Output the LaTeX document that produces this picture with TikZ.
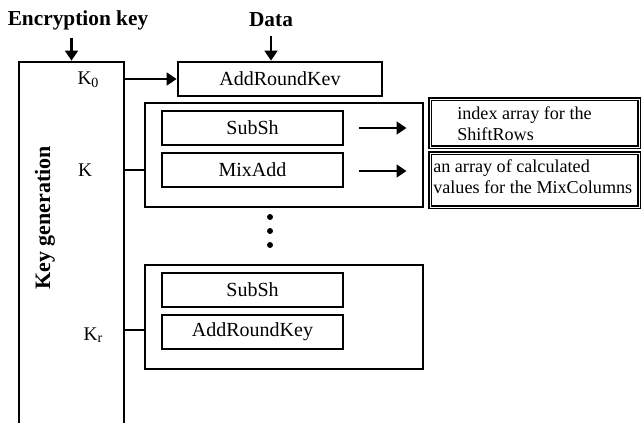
\documentclass[tikz,border=0pt]{standalone}
\usepackage{fontspec}
\setmainfont{Liberation Serif}
\usetikzlibrary{arrows.meta}
\begin{document}
\begin{tikzpicture}[x=0.75pt,y=-0.75pt,
  frame/.style={draw, line width=2pt, inner sep=0pt},
  opbox/.style={frame, minimum width=135.75pt, minimum height=25.5pt, font=\fontsize{15}{18}\selectfont},
  roundbox/.style={frame, minimum width=208.5pt, minimum height=78pt},
  infobox/.style={draw, double, line width=1.2pt, double distance=0.5pt, minimum width=156.75pt, inner sep=0pt},
  infotext/.style={align=left, font=\fontsize{13.6}{16}\selectfont, inner sep=0pt},
  head/.style={font=\bfseries\fontsize{16}{19}\selectfont},
  klabel/.style={font=\fontsize{14.5}{17}\selectfont, inner sep=0pt},
  arr/.style={line width=2.2pt, -{Triangle[length=7.5pt,width=9.5pt]}},
  link/.style={line width=2pt},
  dotn/.style={circle, fill, inner sep=0pt, minimum size=4.5pt}
]
\useasboundingbox (0,0) rectangle (641,422);
\clip (0,0) rectangle (641,422);
% headings
\node[head] (enc) at (78,20) {Encryption key};
\node[head] (data) at (271,20) {Data};
% key generation block (extends below the picture)
\node[frame, minimum width=78.75pt, minimum height=282pt] (keygen) at (71.5,250) {};
\node[font=\bfseries\fontsize{16.5}{19}\selectfont, rotate=90] (kgtext) at (45,218) {Key generation};
% first add round key
\node[frame, minimum width=153pt, minimum height=25.5pt, font=\fontsize{15}{18}\selectfont] (ark) at (280,79) {AddRoundKev};
% round 1
\node[roundbox] (round1) at (284,155) {};
\node[opbox] (subsh1) at (252.5,128) {SubSh};
\node[opbox] (mixadd) at (252.5,170) {MixAdd};
% info boxes
\node[infobox, minimum height=36pt] (info1) at (534.5,123) {};
\node[infotext, anchor=west] (info1text) at (457,123.5) {index array for the\\ShiftRows};
\node[infobox, minimum height=40.5pt] (info2) at (534.5,180) {};
\node[infotext, anchor=west] (info2text) at (433,176.5) {an array of calculated\\values for the MixColumns};
% dots
\node[dotn] (d1) at (270,217) {};
\node[dotn] (d2) at (270,231) {};
\node[dotn] (d3) at (270,245) {};
% last round
\node[roundbox] (round2) at (284,317) {};
\node[opbox] (subsh2) at (252.5,290) {SubSh};
\node[opbox] (ark2) at (252.5,332) {AddRoundKey};
% key labels
\node[klabel] (k0) at (88,80) {K\raisebox{-2pt}{\fontsize{10.5}{12}\selectfont 0}};
\node[klabel] (k1) at (85,170) {K};
\node[klabel] (kr) at (93,335) {K\raisebox{-1pt}{\fontsize{10.5}{12}\selectfont r}};
% connectors
\coordinate (c1) at (0,170);
\coordinate (cr) at (0,330);
\draw[arr, shorten <=3pt] (keygen.north |- enc.south) -- (keygen.north);
\draw[arr, shorten <=3pt] (data.south) -- (data.south |- ark.north);
\draw[arr] (keygen.east |- ark.west) -- (ark.west);
\draw[link] (keygen.east |- c1) -- (round1.west |- c1);
\draw[link] (keygen.east |- cr) -- (round2.west |- cr);
\draw[arr, shorten <=11pt, shorten >=17pt] (subsh1.east) -- (subsh1.east -| info1.west);
\draw[arr, shorten <=11pt, shorten >=17pt] ([yshift=-0.75pt]mixadd.east) -- ([yshift=-0.75pt]mixadd.east -| info2.west);
\end{tikzpicture}
\end{document}
